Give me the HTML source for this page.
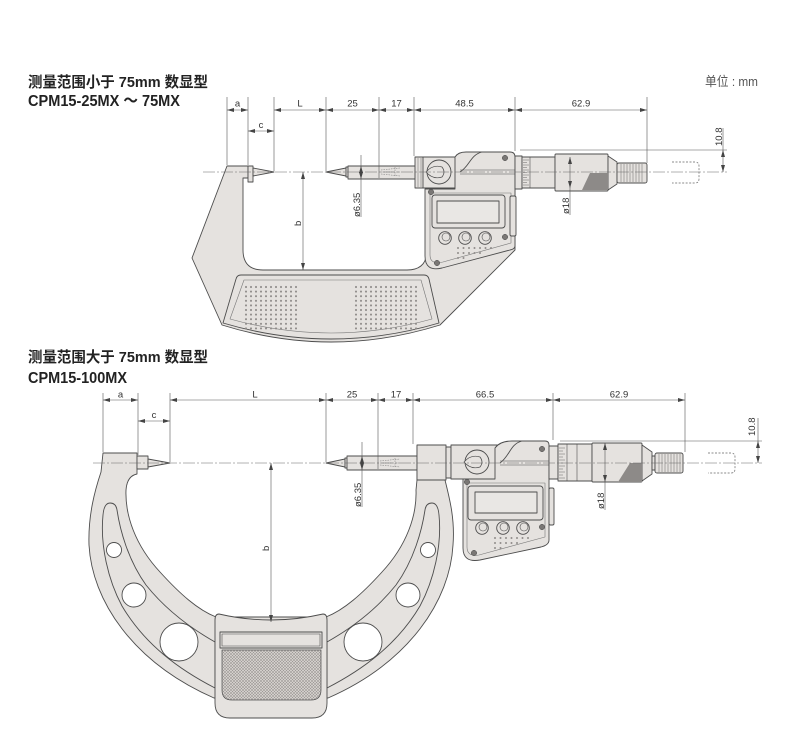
<!DOCTYPE html>
<html><head><meta charset="utf-8">
<style>html,body{margin:0;padding:0;background:#fff;}svg{display:block;}</style>
</head><body>
<svg width="790" height="735" viewBox="0 0 790 735" xmlns="http://www.w3.org/2000/svg">
<defs>
<marker id="ar" viewBox="0 0 7 4" refX="7" refY="2" markerWidth="7" markerHeight="4" markerUnits="userSpaceOnUse" orient="auto-start-reverse"><path d="M0,0 L7,2 L0,4 Z" fill="#444"/></marker>
<pattern id="kn" width="3" height="3" patternUnits="userSpaceOnUse"><rect width="3" height="3" fill="#dcd8d5"/><path d="M0,0 L3,3 M3,0 L0,3" stroke="#9a9694" stroke-width="0.6"/></pattern>
<pattern id="dp" x="243.5" y="284.7" width="5" height="4.6" patternUnits="userSpaceOnUse"><circle cx="2.5" cy="2.3" r="1.05" fill="#8f8c8a"/></pattern>
</defs>

<!-- Titles -->
<g font-family="'Liberation Sans','Noto Sans CJK SC',sans-serif" font-weight="bold" fill="#222">
<text x="28" y="87" font-size="15" textLength="180" lengthAdjust="spacingAndGlyphs">测量范围小于 75mm 数显型</text>
<text x="28" y="106" font-size="16" textLength="152" lengthAdjust="spacingAndGlyphs">CPM15-25MX ～ 75MX</text>
<text x="28" y="362" font-size="15" textLength="180" lengthAdjust="spacingAndGlyphs">测量范围大于 75mm 数显型</text>
<text x="28" y="383" font-size="16" textLength="99" lengthAdjust="spacingAndGlyphs">CPM15-100MX</text>
</g>
<text x="705" y="86" font-family="'Liberation Sans','Noto Sans CJK SC',sans-serif" font-size="13" fill="#555" textLength="53" lengthAdjust="spacingAndGlyphs">单位 : mm</text>

<!-- ================= TOP MICROMETER ================= -->
<g stroke="#4d4d4d" stroke-width="0.9" fill="#e5e2df" stroke-linejoin="round">
  <!-- frame -->
  <path d="M227,166 L248,166 L248,178 L243,178 L243,250 Q243,270 263,270 L407,270 Q427,270 427,250 L427,172 L515,172 L515,250 L440,325 Q331,359 222,325 L192,258 Z"/>
  <!-- pad -->
  <path d="M241,275 L424,275 Q428,275 429,279 L439,323 Q331,355 223,323 L236,279 Q237,275 241,275 Z"/>
  <path d="M244,280 L421,280 L432,319 Q331,347 230,319 Z" fill="none" stroke="#777" stroke-width="0.6"/>
</g>
<rect x="243.5" y="284.7" width="55" height="46" fill="url(#dp)"/>
<rect x="353.5" y="284.7" width="65" height="46" fill="url(#dp)" style="fill:url(#dp2)"/>
<defs><pattern id="dp2" x="353.5" y="284.7" width="5" height="4.6" patternUnits="userSpaceOnUse"><circle cx="2.5" cy="2.3" r="1.05" fill="#8f8c8a"/></pattern></defs>

<g stroke="#4d4d4d" stroke-width="0.9" fill="#e5e2df" stroke-linejoin="round">
  <!-- anvil -->
  <rect x="248" y="166" width="5" height="16"/>
  <path d="M253,168 L274,172 L253,176 Z"/>
  <!-- spindle -->
  <path d="M326,172 L346,168 L346,176 Z"/>
  <rect x="346" y="167" width="2.5" height="10"/>
  <rect x="348" y="166" width="70" height="13"/>
  <!-- ring & clamp body -->
  <rect x="415" y="157" width="9" height="31"/>
  <rect x="423" y="157" width="40" height="31"/>
  <!-- housing -->
  <path d="M455,157 Q458,152 466,152 L510,152 Q515,152 515,157 L515,246 Q515,249 510,250 L442,268 Q425,272 425,256 L425,189 L455,189 Z"/>
  <path d="M430,193 L511,193 L511,243 L443,262 Q430,265 430,255 Z" fill="none" stroke="#777" stroke-width="0.6"/>
  <path d="M482,152 C470,155 470,166 460,172" fill="none"/>
  <line x1="460" y1="170" x2="515" y2="170" stroke-width="0.6"/>
  <line x1="460" y1="174" x2="515" y2="174" stroke-width="0.6"/>
  <!-- knob -->
  <circle cx="439" cy="172" r="12"/>
  <path d="M426,172 Q433,164 442,167 Q446,172 442,177 Q433,180 426,172 Z" stroke-width="0.7"/>
  <!-- LCD -->
  <rect x="432" y="195" width="73" height="33" rx="3"/>
  <rect x="437" y="201" width="62" height="22" fill="#e9e7e4"/>
  <!-- buttons -->
  <circle cx="445" cy="238" r="6.3"/><circle cx="446" cy="237" r="4" fill="none" stroke-width="0.6"/>
  <circle cx="465" cy="238" r="6.3"/><circle cx="466" cy="237" r="4" fill="none" stroke-width="0.6"/>
  <circle cx="485" cy="238" r="6.3"/><circle cx="486" cy="237" r="4" fill="none" stroke-width="0.6"/>
  <!-- side strip -->
  <rect x="510" y="196" width="6" height="40" rx="1.5"/>
  <!-- sleeve -->
  <rect x="515" y="156" width="7" height="33"/>
  <rect x="522" y="157" width="33" height="31"/>
  <line x1="530" y1="157" x2="530" y2="188" stroke-width="0.6"/>
  <!-- thimble -->
  <rect x="555" y="154" width="53" height="37" rx="1"/>
  <path d="M608,156 L617,162 L617,184 L608,190 Z"/>
  <rect x="617" y="163" width="30" height="20" rx="2"/>
</g>
<path d="M582,190 L590,173 L608,173 L608,190 Z" fill="#8d8a88"/>
<g stroke="#666" stroke-width="0.5">
  <path d="M523,160 h6 M523,162.5 h4 M523,165 h6 M523,167.5 h4 M523,170 h6 M523,172.5 h4 M523,175 h6 M523,177.5 h4 M523,180 h6 M523,182.5 h4 M523,185 h6"/>
  <path d="M621,164 v18 M624,164 v18 M627,164 v18 M630,164 v18 M633,164 v18 M636,164 v18 M639,164 v18 M642,164 v18"/>
  <path d="M418,158 v29 M421,158 v29"/>
</g>
<!-- screws -->
<g fill="#7a7775" stroke="#444" stroke-width="0.5">
  <circle cx="431" cy="192" r="2.7"/><circle cx="505" cy="158" r="2.7"/><circle cx="505" cy="237" r="2.7"/><circle cx="437" cy="263" r="2.7"/>
</g>
<!-- small dots on panel -->
<g fill="#8f8c8a">
  <circle cx="458" cy="248" r="1"/><circle cx="463.5" cy="248" r="1"/><circle cx="469" cy="248" r="1"/><circle cx="474.5" cy="248" r="1"/><circle cx="480" cy="248" r="1"/><circle cx="485.5" cy="248" r="1"/><circle cx="491" cy="248" r="1"/>
  <circle cx="458" cy="253" r="1"/><circle cx="463.5" cy="253" r="1"/><circle cx="469" cy="253" r="1"/><circle cx="474.5" cy="253" r="1"/><circle cx="480" cy="253" r="1"/>
  <circle cx="458" cy="258" r="1"/><circle cx="463.5" cy="258" r="1"/>
</g>
<!-- internal dashed in spindle -->
<g stroke="#777" stroke-width="0.5" stroke-dasharray="1.5,1" fill="none">
  <path d="M381,170 L400,168 M381,172 L400,172 M381,174 L400,176 M395,167 V177"/>
</g>
<!-- dashed retracted -->
<path d="M672,162 L695,162 Q699,162 699,166 L699,179 Q699,183 695,183 L672,183" fill="none" stroke="#666" stroke-width="0.7" stroke-dasharray="2,1.5"/>

<!-- centerline top -->
<line x1="203" y1="172" x2="727" y2="172" stroke="#666" stroke-width="0.5" stroke-dasharray="12,2,2,2"/>

<!-- top dimensions -->
<g stroke="#555" stroke-width="0.6" fill="none">
  <line x1="227" y1="97" x2="227" y2="165"/>
  <line x1="248" y1="97" x2="248" y2="165"/>
  <line x1="274" y1="97" x2="274" y2="171"/>
  <line x1="326" y1="97" x2="326" y2="171"/>
  <line x1="379" y1="97" x2="379" y2="178"/>
  <line x1="414" y1="97" x2="414" y2="156"/>
  <line x1="515" y1="97" x2="515" y2="151"/>
  <line x1="647" y1="97" x2="647" y2="163"/>
  <line x1="227" y1="110" x2="248" y2="110" marker-start="url(#ar)" marker-end="url(#ar)"/>
  <line x1="274" y1="110" x2="326" y2="110" marker-start="url(#ar)" marker-end="url(#ar)"/>
  <line x1="326" y1="110" x2="379" y2="110" marker-start="url(#ar)" marker-end="url(#ar)"/>
  <line x1="379" y1="110" x2="414" y2="110" marker-start="url(#ar)" marker-end="url(#ar)"/>
  <line x1="414" y1="110" x2="515" y2="110" marker-start="url(#ar)" marker-end="url(#ar)"/>
  <line x1="515" y1="110" x2="647" y2="110" marker-start="url(#ar)" marker-end="url(#ar)"/>
  <line x1="248" y1="131" x2="274" y2="131" marker-start="url(#ar)" marker-end="url(#ar)"/>
  <!-- b -->
  <line x1="303" y1="172" x2="303" y2="270" marker-start="url(#ar)" marker-end="url(#ar)"/>
  <!-- ø6.35 -->
  <line x1="361" y1="166" x2="361" y2="179" marker-start="url(#ar)" marker-end="url(#ar)"/>
  <line x1="361" y1="155" x2="361" y2="166"/>
  <line x1="361" y1="179" x2="361" y2="217"/>
  <!-- ø18 -->
  <line x1="570" y1="157" x2="570" y2="188" marker-start="url(#ar)" marker-end="url(#ar)"/>
  <line x1="570" y1="188" x2="570" y2="215"/>
  <!-- 10.8 -->
  <line x1="520" y1="150" x2="727" y2="150"/>
  <line x1="723" y1="150" x2="723" y2="172" marker-start="url(#ar)" marker-end="url(#ar)"/>
  <line x1="723" y1="128" x2="723" y2="150"/>
</g>
<g font-family="'Liberation Sans',sans-serif" font-size="9.5" fill="#333" text-anchor="middle">
  <text x="237.5" y="106.5">a</text>
  <text x="300" y="106.5">L</text>
  <text x="352.5" y="106.5">25</text>
  <text x="396.5" y="106.5">17</text>
  <text x="464.5" y="106.5">48.5</text>
  <text x="581" y="106.5">62.9</text>
  <text x="261" y="128">c</text>
</g>
<g font-family="'Liberation Sans',sans-serif" font-size="9.5" fill="#333">
  <text transform="translate(360,217) rotate(-90)">ø6.35</text>
  <text transform="translate(569,214) rotate(-90)">ø18</text>
  <text transform="translate(722,146) rotate(-90)">10.8</text>
  <text transform="translate(301,226) rotate(-90)">b</text>
</g>

<!-- ================= BOTTOM MICROMETER ================= -->
<g stroke="#4d4d4d" stroke-width="0.9" fill="#e5e2df" stroke-linejoin="round">
  <!-- frame -->
  <path d="M103,453 L137,453 L137,474 Q127,476 126,490 C125,515 135,545 160,572 C180,594 198,610 216,617 L326,617 C344,610 362,594 382,572 C407,545 417,515 416,490 L417,480 L417,446 L445,446 L445,480 C450,500 455,520 453,545 C450,600 410,662 328,698 L214,698 C132,662 92,600 89,545 C88,515 95,490 101,472 Z"/>
  <!-- grooves -->
  <path d="M103,515 Q104,503 110,503 Q116,503 117,510 C120,530 128,560 146,585 C162,605 185,625 215,642 L215,688 C180,670 145,645 122,606 C108,580 100,545 103,515 Z"/>
  <path d="M439,515 Q438,503 432,503 Q426,503 425,510 C422,530 414,560 396,585 C380,605 357,625 327,642 L327,688 C362,670 397,645 420,606 C434,580 442,545 439,515 Z"/>
  <!-- holes -->
  <g fill="#fff">
    <circle cx="114" cy="550" r="7.5"/><circle cx="134" cy="595" r="12"/><circle cx="179" cy="642" r="19"/>
    <circle cx="428" cy="550" r="7.5"/><circle cx="408" cy="595" r="12"/><circle cx="363" cy="642" r="19"/>
  </g>
  <!-- pad -->
  <path d="M219,614 Q271,626 323,614 Q327,614 327,620 L327,703 Q327,718 312,718 L230,718 Q215,718 215,703 L215,620 Q215,614 219,614 Z"/>
  <rect x="220" y="632" width="102" height="16"/>
  <rect x="222" y="634" width="98" height="12" fill="none" stroke-width="0.6"/>
  <path d="M222,650 L321,650 L321,690 Q321,700 311,700 L232,700 Q222,700 222,690 Z" fill="url(#kn)" stroke-width="0.7"/>

  <!-- anvil -->
  <rect x="137" y="456" width="11" height="13"/>
  <path d="M148,459 L170,463 L148,467 Z"/>
  <!-- spindle -->
  <path d="M326,463 L345,459 L345,467 Z"/>
  <rect x="345" y="458" width="2.5" height="10"/>
  <rect x="347" y="456" width="70" height="14"/>
  <!-- block, ring, clamp -->
  <rect x="417" y="445" width="29" height="35"/>
  <rect x="446" y="447" width="5" height="31"/>
  <rect x="451" y="445" width="49" height="34"/>
  <!-- housing -->
  <path d="M495,448 Q500,441 512,441 L545,441 Q549,441 549,445 L549,540 Q549,545 541,547 L480,560 Q463,563 463,548 L463,479 L495,479 Z"/>
  <path d="M467,483 L545,483 L545,537 L479,555 Q467,557 467,547 Z" fill="none" stroke="#777" stroke-width="0.6"/>
  <path d="M522,441 C510,444 510,456 500,463" fill="none"/>
  <line x1="500" y1="461" x2="549" y2="461" stroke-width="0.6"/>
  <line x1="500" y1="465" x2="549" y2="465" stroke-width="0.6"/>
  <!-- knob -->
  <circle cx="477" cy="462" r="12"/>
  <path d="M464,462 Q471,454 480,457 Q484,462 480,467 Q471,470 464,462 Z" stroke-width="0.7"/>
  <!-- LCD -->
  <rect x="468" y="486" width="75" height="34" rx="3"/>
  <rect x="475" y="492" width="62" height="21" fill="#e9e7e4"/>
  <!-- buttons -->
  <circle cx="482" cy="528" r="6.3"/><circle cx="483" cy="527" r="4" fill="none" stroke-width="0.6"/>
  <circle cx="503" cy="528" r="6.3"/><circle cx="504" cy="527" r="4" fill="none" stroke-width="0.6"/>
  <circle cx="523" cy="528" r="6.3"/><circle cx="524" cy="527" r="4" fill="none" stroke-width="0.6"/>
  <!-- side strip -->
  <rect x="549" y="488" width="5" height="37" rx="1.5"/>
  <!-- sleeve -->
  <rect x="549" y="446" width="9" height="33"/>
  <rect x="558" y="444" width="34" height="37"/>
  <line x1="567" y1="444" x2="567" y2="481" stroke-width="0.6"/>
  <line x1="577" y1="444" x2="577" y2="481" stroke-width="0.6"/>
  <!-- thimble -->
  <rect x="592" y="443" width="50" height="39" rx="1"/>
  <path d="M642,445 L652,452 L652,474 L642,481 Z"/>
  <rect x="652" y="456" width="3" height="14"/>
  <rect x="655" y="453" width="28" height="20" rx="2"/>
</g>
<path d="M618,482 L630,463 L642,463 L642,482 Z" fill="#8d8a88"/>
<g stroke="#666" stroke-width="0.5">
  <path d="M559,448 h6 M559,451 h4 M559,454 h6 M559,457 h4 M559,460 h6 M559,463 h4 M559,466 h6 M559,469 h4 M559,472 h6 M559,475 h4 M559,478 h6"/>
  <path d="M659,454 v18 M662,454 v18 M665,454 v18 M668,454 v18 M671,454 v18 M674,454 v18 M677,454 v18 M680,454 v18"/>
</g>
<g fill="#7a7775" stroke="#444" stroke-width="0.5">
  <circle cx="467" cy="482" r="2.7"/><circle cx="542" cy="449" r="2.7"/><circle cx="542" cy="527" r="2.7"/><circle cx="474" cy="553" r="2.7"/>
</g>
<g fill="#8f8c8a">
  <circle cx="495" cy="538" r="1"/><circle cx="500.5" cy="538" r="1"/><circle cx="506" cy="538" r="1"/><circle cx="511.5" cy="538" r="1"/><circle cx="517" cy="538" r="1"/><circle cx="522.5" cy="538" r="1"/><circle cx="528" cy="538" r="1"/>
  <circle cx="495" cy="543" r="1"/><circle cx="500.5" cy="543" r="1"/><circle cx="506" cy="543" r="1"/><circle cx="511.5" cy="543" r="1"/><circle cx="517" cy="543" r="1"/>
  <circle cx="495" cy="548" r="1"/><circle cx="500.5" cy="548" r="1"/>
</g>
<g stroke="#777" stroke-width="0.5" stroke-dasharray="1.5,1" fill="none">
  <path d="M380,461 L400,459 M380,463 L400,463 M380,465 L400,467 M395,458 V468"/>
</g>
<path d="M708,453 L731,453 Q735,453 735,457 L735,469 Q735,473 731,473 L708,473" fill="none" stroke="#666" stroke-width="0.7" stroke-dasharray="2,1.5"/>

<line x1="93" y1="463" x2="762" y2="463" stroke="#666" stroke-width="0.5" stroke-dasharray="12,2,2,2"/>

<!-- bottom dimensions -->
<g stroke="#555" stroke-width="0.6" fill="none">
  <line x1="103" y1="393" x2="103" y2="452"/>
  <line x1="138" y1="393" x2="138" y2="455"/>
  <line x1="170" y1="393" x2="170" y2="462"/>
  <line x1="326" y1="393" x2="326" y2="462"/>
  <line x1="378" y1="393" x2="378" y2="469"/>
  <line x1="413" y1="393" x2="413" y2="444"/>
  <line x1="553" y1="393" x2="553" y2="440"/>
  <line x1="685" y1="393" x2="685" y2="452"/>
  <line x1="103" y1="400" x2="138" y2="400" marker-start="url(#ar)" marker-end="url(#ar)"/>
  <line x1="170" y1="400" x2="326" y2="400" marker-start="url(#ar)" marker-end="url(#ar)"/>
  <line x1="326" y1="400" x2="378" y2="400" marker-start="url(#ar)" marker-end="url(#ar)"/>
  <line x1="378" y1="400" x2="413" y2="400" marker-start="url(#ar)" marker-end="url(#ar)"/>
  <line x1="413" y1="400" x2="553" y2="400" marker-start="url(#ar)" marker-end="url(#ar)"/>
  <line x1="553" y1="400" x2="685" y2="400" marker-start="url(#ar)" marker-end="url(#ar)"/>
  <line x1="138" y1="421" x2="170" y2="421" marker-start="url(#ar)" marker-end="url(#ar)"/>
  <!-- b -->
  <line x1="271" y1="463" x2="271" y2="622" marker-start="url(#ar)" marker-end="url(#ar)"/>
  <!-- ø6.35 -->
  <line x1="362" y1="456" x2="362" y2="470" marker-start="url(#ar)" marker-end="url(#ar)"/>
  <line x1="362" y1="442" x2="362" y2="456"/>
  <line x1="362" y1="470" x2="362" y2="507"/>
  <!-- ø18 -->
  <line x1="605" y1="443" x2="605" y2="482" marker-start="url(#ar)" marker-end="url(#ar)"/>
  <line x1="605" y1="482" x2="605" y2="510"/>
  <!-- 10.8 -->
  <line x1="560" y1="441" x2="762" y2="441"/>
  <line x1="758" y1="441" x2="758" y2="463" marker-start="url(#ar)" marker-end="url(#ar)"/>
  <line x1="758" y1="418" x2="758" y2="441"/>
</g>
<g font-family="'Liberation Sans',sans-serif" font-size="9.5" fill="#333" text-anchor="middle">
  <text x="120.5" y="397.5">a</text>
  <text x="255" y="397.5">L</text>
  <text x="352" y="397.5">25</text>
  <text x="396" y="397.5">17</text>
  <text x="485" y="397.5">66.5</text>
  <text x="619" y="397.5">62.9</text>
  <text x="154" y="418">c</text>
</g>
<g font-family="'Liberation Sans',sans-serif" font-size="9.5" fill="#333">
  <text transform="translate(361,507) rotate(-90)">ø6.35</text>
  <text transform="translate(604,509) rotate(-90)">ø18</text>
  <text transform="translate(755,436) rotate(-90)">10.8</text>
  <text transform="translate(269,551) rotate(-90)">b</text>
</g>
</svg>
</body></html>
